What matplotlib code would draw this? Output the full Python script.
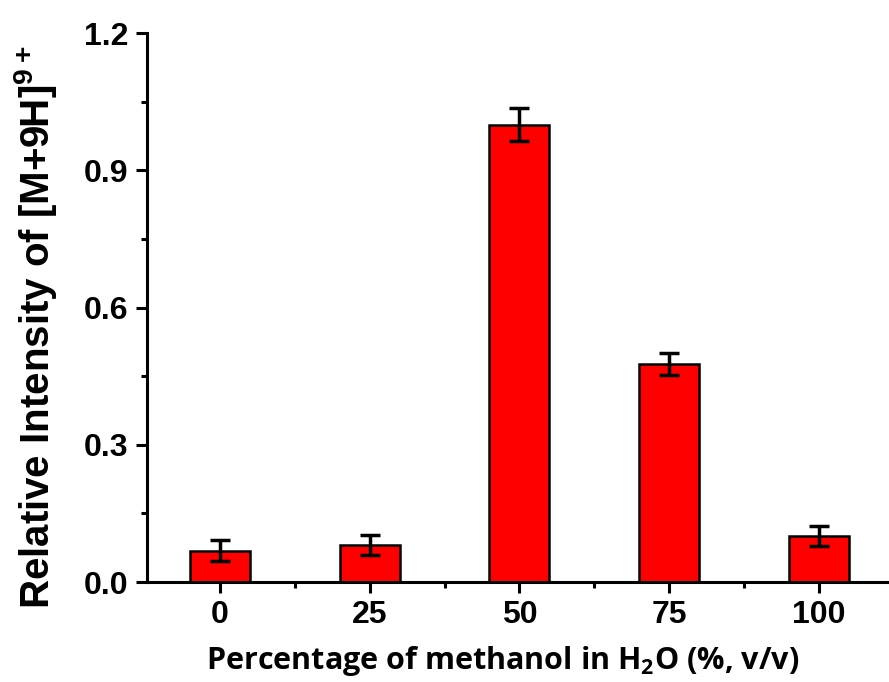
import matplotlib
matplotlib.use("Agg")
import matplotlib.pyplot as plt
from matplotlib.ticker import MultipleLocator, FormatStrFormatter

categories = ["0", "25", "50", "75", "100"]
intensity = [0.068, 0.081, 1.0, 0.477, 0.10]
errors = [0.023, 0.022, 0.036, 0.024, 0.022]

fig = plt.figure(figsize=(8.89, 6.82), dpi=100)
ax = fig.add_axes([0.165, 0.1466, 0.835, 0.805])

x = list(range(len(categories)))
ax.bar(x, intensity, width=0.4, color="#ff0000", edgecolor="black", linewidth=1.8, zorder=2)
ax.errorbar(x, intensity, yerr=errors, fmt="none", ecolor="black", elinewidth=2.5,
            capsize=7, capthick=2.5, zorder=3)

ax.set_xlim(-0.49, 4.47)
ax.set_ylim(0, 1.2)
ax.set_xticks(x)
ax.set_xticklabels(categories)
ax.xaxis.set_minor_locator(MultipleLocator(0.5))
ax.yaxis.set_major_locator(MultipleLocator(0.3))
ax.yaxis.set_minor_locator(MultipleLocator(0.15))
ax.yaxis.set_major_formatter(FormatStrFormatter("%.1f"))

for s in ["top", "right"]:
    ax.spines[s].set_visible(False)
for s in ["left", "bottom"]:
    ax.spines[s].set_linewidth(2.2)

ax.tick_params(which="major", direction="out", length=8, width=2.2, pad=5)
ax.tick_params(which="minor", direction="out", length=4.5, width=2.2)
for lab in ax.get_xticklabels() + ax.get_yticklabels():
    lab.set_fontfamily("Liberation Sans")
    lab.set_fontweight("bold")
    lab.set_fontsize(23)

ax.set_xlabel("Percentage of methanol in H$_\\mathregular{2}$O (%, v/v)",
              fontfamily="Open Sans", fontweight="bold", fontsize=22)
ax.set_ylabel("Relative Intensity of [M+9H]$^\\mathregular{9+}$",
              fontfamily="Liberation Sans", fontweight="bold", fontsize=29)
ax.xaxis.set_label_coords(0.48, -0.113)
ax.xaxis.label.set_va("top")
ax.yaxis.set_label_coords(-0.15, 0.463)
ax.yaxis.label.set_va("center")

fig.savefig("out.png", dpi=100)
